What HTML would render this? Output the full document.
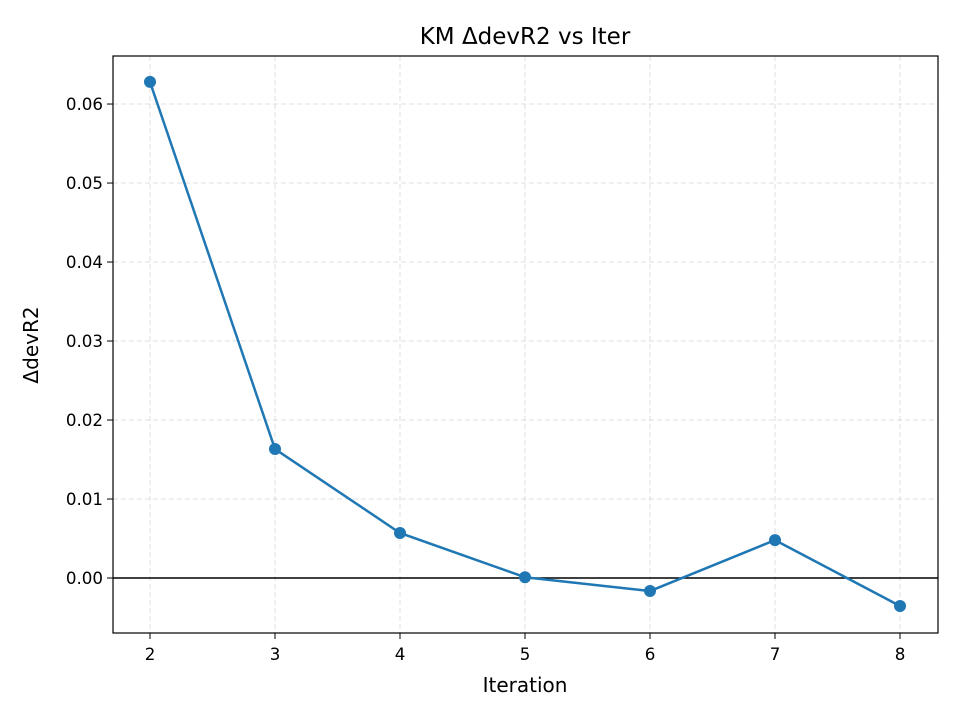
<!DOCTYPE html>
<html><head><meta charset="utf-8"><style>
html,body{margin:0;padding:0;background:#fff;}
svg text{font-family:"DejaVu Sans","Liberation Sans",sans-serif;fill:#000;}
</style></head><body>
<svg id="chart" width="960" height="720" xmlns="http://www.w3.org/2000/svg">
<rect width="960" height="720" fill="#fff"/>
<text x="525" y="44" font-size="23" text-anchor="middle">KM ΔdevR2 vs Iter</text>
<text x="525" y="692" font-size="20" text-anchor="middle">Iteration</text>
<text transform="translate(38,345) rotate(-90)" font-size="20" text-anchor="middle">ΔdevR2</text>
<g id="grid"></g><g id="ticks"></g><g id="marks"></g>
<rect x="113" y="56" width="825" height="577" fill="none" stroke="#000" stroke-width="1.2"/>
</svg>
<script>
const iterations=[2,3,4,5,6,7,8];
const deltaDevR2=[0.0628,0.01633,0.0057,0.0001,-0.00165,0.0048,-0.00354];
const xTicks=[2,3,4,5,6,7,8];
const yTicks=[0,0.01,0.02,0.03,0.04,0.05,0.06];
const yTickLabels=["0.00","0.01","0.02","0.03","0.04","0.05","0.06"];
const L=113,R=938,T=56,B=633;
const xMin=1.704,xMax=8.304,yMin=-0.00696,yMax=0.06608;
const xs=v=>L+(v-xMin)/(xMax-xMin)*(R-L);
const ys=v=>B-(v-yMin)/(yMax-yMin)*(B-T);
const NS="http://www.w3.org/2000/svg";
function mk(tag,attrs,parent){const e=document.createElementNS(NS,tag);for(const k in attrs)e.setAttribute(k,attrs[k]);document.getElementById(parent).appendChild(e);return e;}
xTicks.forEach(t=>{const x=xs(t);
 let g=mk('line',{x1:x,x2:x,y1:T,y2:B,stroke:'#b0b0b0','stroke-opacity':0.4,'stroke-dasharray':'5,3'},'grid');
 
 
 let tk=mk('line',{x1:x,x2:x,y1:B,y2:B+6,stroke:'#000'},'ticks');
 
 
 let tx=mk('text',{x:x,y:B+27,'font-size':16.7,'text-anchor':'middle'},'ticks');tx.textContent=t;
 
 
});
yTicks.forEach((t,i)=>{const y=ys(t);
 let g=mk('line',{x1:L,x2:R,y1:y,y2:y,stroke:'#b0b0b0','stroke-opacity':0.4,'stroke-dasharray':'5,3'},'grid');
 
 
 let tk=mk('line',{x1:L-6,x2:L,y1:y,y2:y,stroke:'#000'},'ticks');
 
 
 let tx=mk('text',{x:L-10,y:y+6,'font-size':16.7,'text-anchor':'end'},'ticks');tx.textContent=yTickLabels[i];
 
 
});
let zl=mk('line',{x1:L,x2:R,y1:ys(0),y2:ys(0),stroke:'#000','stroke-width':1.5},'marks');


let pl=mk('polyline',{points:iterations.map((v,i)=>xs(v)+','+ys(deltaDevR2[i])).join(' '),fill:'none',stroke:'#1f77b4','stroke-width':2.5},'marks');


iterations.forEach((v,i)=>{
 let c=mk('circle',{cx:xs(v),cy:ys(deltaDevR2[i]),r:6,fill:'#1f77b4'},'marks');
 
 
});
</script>
</body></html>
